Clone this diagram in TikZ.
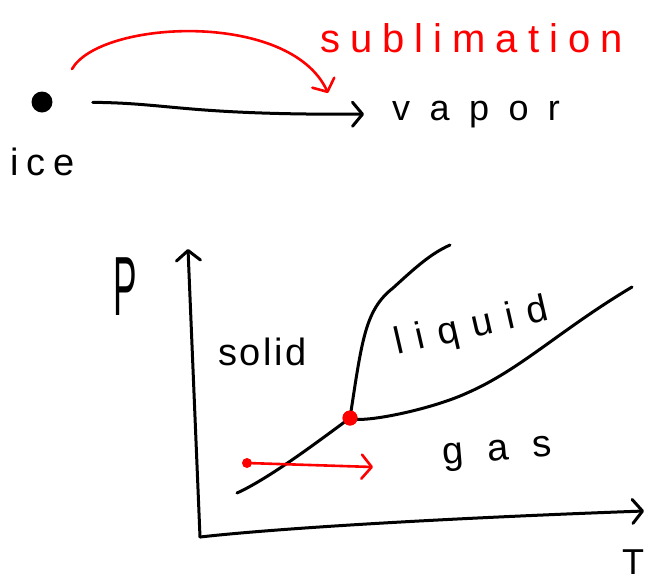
\documentclass[tikz,border=0pt]{standalone}
\usepackage{fontspec}
\setmainfont{Liberation Sans}
\usetikzlibrary{arrows.meta}
\begin{document}
\begin{tikzpicture}[x=1pt,y=-1pt,
  ink/.style={line width=3pt,line cap=round,line join=round},
  redink/.style={ink,draw=red,line width=2.6pt},
  barb/.style={-{Straight Barb[length=10pt,width=24pt,round]}},
  word/.style={inner sep=0pt,anchor=base west},
  dot/.style={circle,inner sep=0pt},
]
\useasboundingbox (0,0) rectangle (656,582);

% top part
\node[dot,fill=black,minimum size=21pt] (icedot) at (42,102) {};
\node[word] (ice) at (10,175) {\fontsize{38}{38}\selectfont\addfontfeature{LetterSpace=21}ice};
\node[word] (vapor) at (392,120) {\fontsize{36}{36}\selectfont\addfontfeature{LetterSpace=54}vapor};
\node[word,text=red] (subl) at (320,52) {\fontsize{40}{40}\selectfont\addfontfeature{LetterSpace=25}sublimation};

\draw[ink,barb,shorten <=40pt,shorten >=28pt] (icedot.east) .. controls (170,103) and (185,115) .. (vapor.west);
\coordinate (sStart) at (72,69);
\coordinate (sEnd) at (328,93);
\draw[redink,barb] (sStart) .. controls (100,20) and (290,10) .. (sEnd);

% phase diagram
\coordinate (O) at (200,537);
\coordinate (Ptop) at (188,249);
\coordinate (Tend) at (644,511);
\draw[ink,barb] (O) -- (Ptop);
\draw[ink,barb] (O) .. controls (280,528) and (450,518) .. (Tend);

\node[word] (plab) at (113,315) {\fontsize{84}{84}\selectfont\scalebox{0.42}[1]{P}};
\node[word] (tlab) at (622,574) {\fontsize{36}{36}\selectfont T};

\node[dot,fill=red,minimum size=15pt] (tp) at (350,418) {};
\coordinate (subStart) at (237,493);
\coordinate (meltEnd) at (450,245);
\coordinate (vapEnd) at (632,287);

\draw[ink] (subStart) .. controls (270,478) and (320,440) .. (tp.center);
\draw[ink] (tp.center) .. controls (362,340) and (365,310) .. (393,288)
  .. controls (415,268) and (430,254) .. (meltEnd);
\draw[ink] (tp.center) .. controls (360,424) and (430,410) .. (467,393)
  .. controls (520,370) and (560,330) .. (vapEnd);
\node[dot,fill=red,minimum size=15pt] at (tp) {};

\node[word] (solid) at (218,365) {\fontsize{38}{38}\selectfont\addfontfeature{LetterSpace=7}solid};
\node[word,rotate=13] (liquid) at (397,355) {\fontsize{38}{38}\selectfont\addfontfeature{LetterSpace=36}liquid};
\node[word,rotate=5] (gas) at (443,465) {\fontsize{38}{38}\selectfont\addfontfeature{LetterSpace=64}gas};

\node[dot,fill=red,minimum size=10pt] (rs) at (247,463) {};
\coordinate (re) at (373,467);
\draw[redink,barb] (rs.center) -- (re);
\end{tikzpicture}
\end{document}
